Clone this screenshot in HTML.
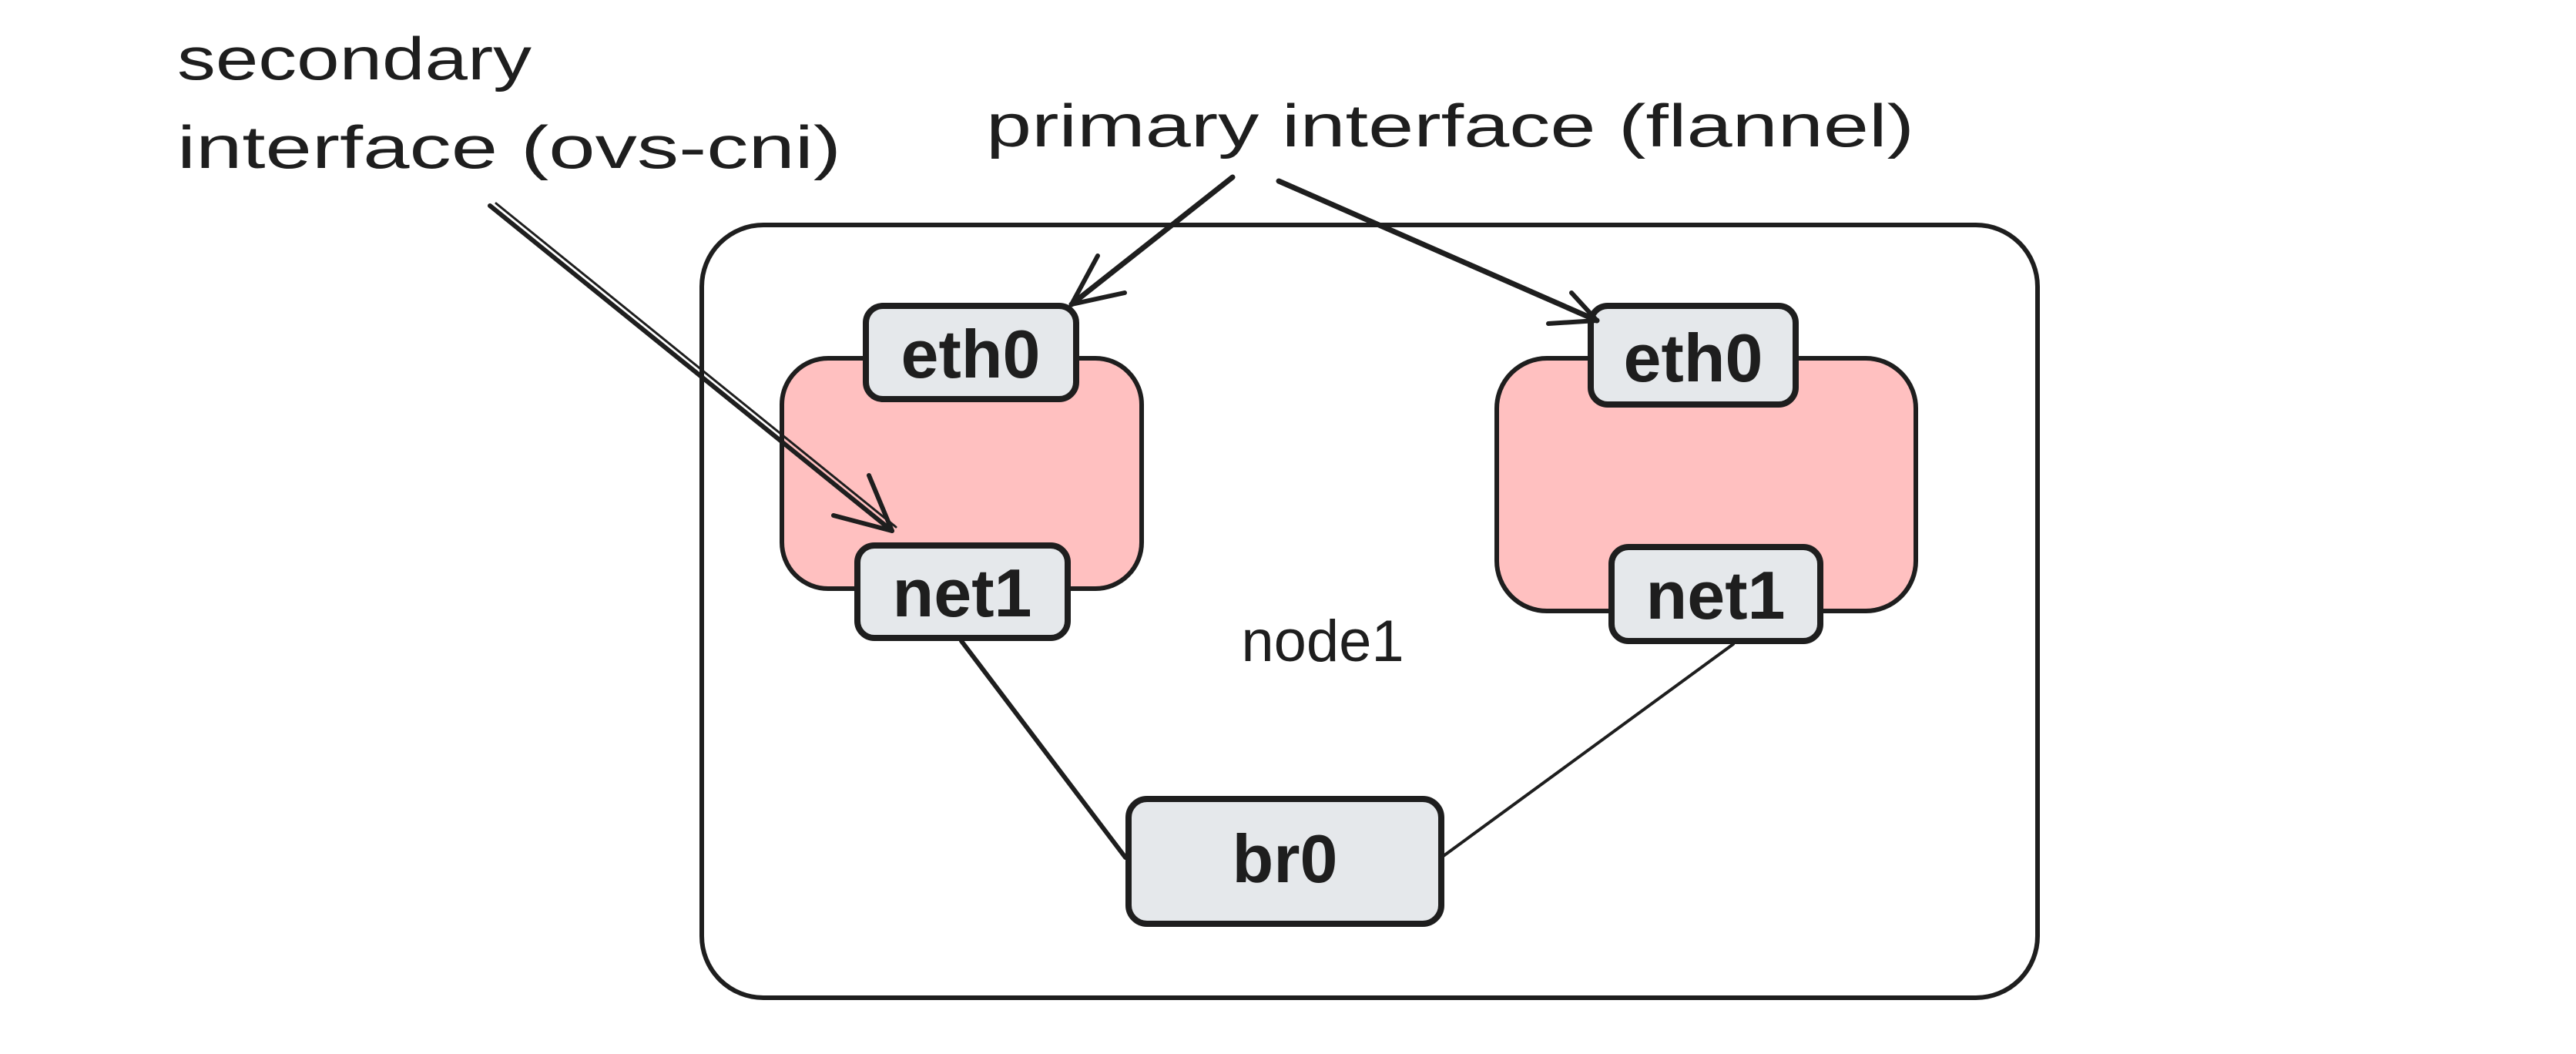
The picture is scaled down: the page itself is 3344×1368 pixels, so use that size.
<!DOCTYPE html>
<html><head><meta charset="utf-8"><style>
html,body{margin:0;padding:0;background:#fff;width:3344px;height:1368px;overflow:hidden}
text{font-family:"Liberation Sans",sans-serif;fill:#1e1e1e}
</style></head><body>
<svg width="3344" height="1368" viewBox="0 0 3344 1368" xmlns="http://www.w3.org/2000/svg">
<g fill="none" stroke="#1e1e1e" stroke-width="6" stroke-linecap="round" stroke-linejoin="round">
<rect x="911" y="292" width="1734" height="1003" rx="80" fill="#fff"/>
<rect x="1015" y="465" width="467" height="299" rx="60" fill="#ffc0c0"/>
<rect x="1943" y="465" width="544" height="328" rx="65" fill="#ffc0c0"/>
<rect x="1124" y="397" width="273" height="121" rx="22" fill="#e5e8eb" stroke-width="8"/>
<rect x="1113" y="708" width="273" height="120" rx="22" fill="#e5e8eb" stroke-width="8"/>
<rect x="2065" y="397" width="266" height="128" rx="22" fill="#e5e8eb" stroke-width="8"/>
<rect x="2092" y="710" width="271" height="122" rx="22" fill="#e5e8eb" stroke-width="8"/>
<rect x="1465" y="1037" width="406" height="162" rx="24" fill="#e5e8eb" stroke-width="8"/>
<line x1="1248" y1="832" x2="1461" y2="1113"/>
<line x1="2250" y1="836" x2="1871" y2="1113" stroke-width="4"/>
<line x1="636" y1="267" x2="1158" y2="689"/>
<line x1="644" y1="264" x2="1163" y2="684" stroke-width="3"/>
<polyline points="1082,669 1158,689 1128,617"/>
<line x1="1600" y1="230" x2="1391" y2="395" stroke-width="7"/>
<polyline points="1425,332 1391,395 1460,380"/>
<line x1="1660" y1="235" x2="2073" y2="416" stroke-width="7"/>
<polyline points="2040,380 2073,416 2010,420"/>
</g>
<text x="230" y="103" font-size="78" textLength="460" lengthAdjust="spacingAndGlyphs">secondary</text>
<text x="230" y="218" font-size="78" textLength="862" lengthAdjust="spacingAndGlyphs">interface (ovs-cni)</text>
<text x="1280" y="190" font-size="78" textLength="1205" lengthAdjust="spacingAndGlyphs">primary interface (flannel)</text>
<text x="1260" y="490" font-size="88" text-anchor="middle" font-weight="bold">eth0</text>
<text x="1249" y="800" font-size="88" text-anchor="middle" font-weight="bold">net1</text>
<text x="2198" y="495" font-size="88" text-anchor="middle" font-weight="bold">eth0</text>
<text x="2227" y="803" font-size="88" text-anchor="middle" font-weight="bold">net1</text>
<text x="1668" y="1145" font-size="88" text-anchor="middle" font-weight="bold">br0</text>
<text x="1717" y="858" font-size="76" text-anchor="middle">node1</text>
</svg>
</body></html>
